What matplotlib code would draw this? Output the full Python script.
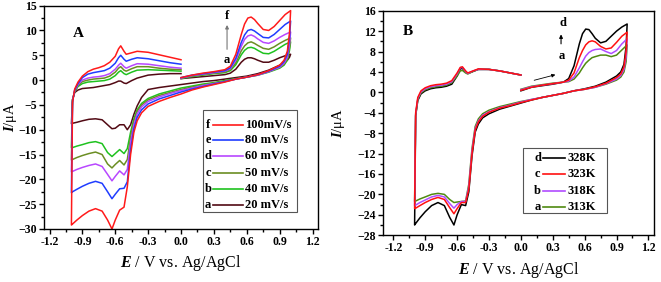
import matplotlib.pyplot as plt
from matplotlib.patches import Rectangle
from matplotlib.ticker import MultipleLocator, FormatStrFormatter

plt.rcParams['font.family'] = 'Liberation Serif'
plt.rcParams['font.weight'] = 'bold'
plt.rcParams['mathtext.fontset'] = 'custom'
plt.rcParams['mathtext.rm'] = 'Liberation Serif:bold'
plt.rcParams['mathtext.it'] = 'Liberation Serif:italic:bold'

# potential sweep: 0 -> 1.0 -> -1.0 -> 0 (V vs. Ag/AgCl)
E_sweep = [0.00, 0.10, 0.20, 0.30, 0.40, 0.45, 0.50, 0.55, 0.58, 0.61, 0.64, 0.67, 0.70, 0.75, 0.80, 0.85,
           0.90, 0.95, 1.00,
           0.99, 0.97, 0.94, 0.90, 0.80, 0.70, 0.60, 0.50, 0.40, 0.30, 0.20, 0.10, 0.00, -0.10, -0.20, -0.30,
           -0.36, -0.40, -0.43, -0.46, -0.49, -0.52, -0.56, -0.60, -0.63, -0.67, -0.72, -0.78, -0.84, -0.90,
           -0.95, -0.99, -1.00,
           -1.00, -0.99, -0.97, -0.94, -0.90, -0.85, -0.80, -0.75, -0.70, -0.65, -0.60, -0.57, -0.55, -0.52,
           -0.50, -0.45, -0.40, -0.30, -0.20, -0.10, 0.00]

# panel A: scan rates (uA)
I_f = [0.5, 1.0, 1.4, 1.7, 2.1, 2.8, 5.2, 9.2, 11.3, 12.5, 12.7, 12.2, 11.4, 10.2, 10.0, 10.8, 12.0, 13.2, 14.0,
       9.5, 5.8, 4.0, 3.0, 1.9, 1.1, 0.6, 0.2, -0.4, -0.9, -1.4, -2.0, -2.8, -3.5, -4.3, -5.3,
       -6.6, -8.2, -10.5, -15.0, -21.5, -25.6, -26.2, -28.2, -30.0, -28.2, -26.4, -25.9, -26.4, -27.3,
       -28.2, -29.0, -29.2,
       -29.2, -4.5, -1.8, -0.4, 0.8, 1.7, 2.2, 2.5, 2.9, 3.6, 4.8, 6.3, 6.9, 5.8,
       5.2, 5.5, 5.8, 5.6, 5.1, 4.6, 4.1]
I_e = [0.5, 1.0, 1.3, 1.6, 1.9, 2.5, 4.4, 7.6, 9.1, 10.0, 10.2, 9.9, 9.4, 8.6, 8.5, 9.2, 10.2, 11.2, 11.9,
       8.5, 5.2, 3.7, 2.8, 1.8, 1.1, 0.6, 0.2, -0.3, -0.8, -1.3, -1.8, -2.4, -3.1, -3.8, -4.8,
       -6.0, -7.5, -9.8, -14.0, -20.5, -21.8, -21.9, -23.0, -23.9, -22.5, -20.8, -20.4, -20.8, -21.4,
       -22.0, -22.5, -22.7,
       -22.7, -4.3, -2.0, -0.7, 0.5, 1.2, 1.5, 1.7, 1.9, 2.4, 3.4, 4.5, 5.0, 4.2,
       3.8, 4.2, 4.5, 4.3, 3.9, 3.5, 3.2]
I_d = [0.4, 0.9, 1.2, 1.5, 1.8, 2.3, 4.0, 6.8, 8.2, 8.9, 9.1, 8.8, 8.3, 7.6, 7.4, 7.9, 8.6, 9.2, 9.7,
       7.2, 4.6, 3.4, 2.6, 1.7, 1.0, 0.6, 0.2, -0.3, -0.7, -1.1, -1.6, -2.1, -2.7, -3.4, -4.3,
       -5.4, -6.8, -9.0, -12.5, -18.0, -19.1, -18.3, -19.4, -20.3, -19.0, -17.4, -16.9, -17.2, -17.6,
       -18.0, -18.4, -18.5,
       -18.5, -4.2, -2.1, -0.9, 0.0, 0.4, 0.6, 0.7, 0.9, 1.3, 2.2, 3.0, 3.4, 2.7,
       2.4, 2.9, 3.3, 3.2, 2.9, 2.6, 2.4]
I_c = [0.4, 0.8, 1.1, 1.4, 1.6, 2.1, 3.5, 5.9, 6.9, 7.5, 7.7, 7.4, 7.0, 6.4, 6.2, 6.7, 7.4, 8.0, 8.5,
       6.5, 4.3, 3.2, 2.5, 1.7, 1.0, 0.6, 0.2, -0.2, -0.6, -1.0, -1.4, -1.9, -2.5, -3.1, -4.0,
       -5.0, -6.3, -8.2, -11.5, -16.0, -17.1, -16.2, -17.0, -17.7, -16.9, -15.0, -14.5, -14.8, -15.2,
       -15.6, -16.0, -16.1,
       -16.1, -4.1, -2.2, -1.1, -0.3, 0.0, 0.2, 0.3, 0.4, 0.8, 1.6, 2.4, 2.7, 2.0,
       1.8, 2.3, 2.7, 2.7, 2.4, 2.2, 2.1]
I_b = [0.3, 0.7, 1.0, 1.3, 1.5, 1.9, 3.1, 5.1, 6.0, 6.5, 6.6, 6.4, 6.0, 5.4, 5.3, 5.8, 6.5, 7.2, 7.7,
       6.0, 4.0, 3.0, 2.4, 1.6, 1.0, 0.6, 0.3, -0.1, -0.5, -0.8, -1.2, -1.6, -2.2, -2.8, -3.7,
       -4.7, -6.0, -7.8, -10.5, -13.8, -14.8, -14.0, -14.8, -15.4, -14.6, -12.8, -12.4, -12.6, -13.0,
       -13.3, -13.6, -13.6,
       -13.6, -4.0, -2.3, -1.3, -0.7, -0.4, -0.3, -0.2, -0.1, 0.2, 0.9, 1.6, 1.9, 1.3,
       1.1, 1.6, 2.0, 2.1, 2.0, 1.9, 1.8]
I_a = [0.3, 0.5, 0.7, 0.9, 1.1, 1.4, 2.2, 3.6, 4.2, 4.5, 4.5, 4.3, 4.0, 3.6, 3.6, 4.0, 4.5, 4.9, 5.2,
       4.6, 4.0, 3.5, 3.0, 2.0, 1.3, 0.8, 0.5, 0.2, -0.1, -0.3, -0.6, -0.9, -1.2, -1.5, -1.9,
       -3.5, -5.2, -6.9, -9.0, -10.0, -9.0, -9.0, -9.7, -9.8, -9.0, -8.0, -7.8, -7.9, -8.2,
       -8.5, -8.7, -8.8,
       -8.8, -3.9, -2.5, -2.0, -1.7, -1.6, -1.5, -1.3, -1.1, -0.9, -0.5, -0.2, -0.2, -0.6,
       -0.7, -0.1, 0.4, 1.0, 1.2, 1.3, 1.3]

# panel B: temperatures (uA)
T_d = [0.3, 1.0, 1.3, 1.6, 2.0, 2.7, 5.2, 9.5, 11.5, 12.4, 12.3, 11.5, 10.6, 9.7, 10.0, 11.0, 12.0, 12.8, 13.4,
       9.0, 5.5, 4.0, 3.2, 2.0, 1.2, 0.7, 0.3, -0.2, -0.6, -1.0, -1.5, -2.1, -2.7, -3.3, -4.2,
       -5.0, -6.2, -7.8, -12.5, -19.5, -22.2, -22.0, -24.0, -26.0, -24.5, -22.2, -21.6, -22.2, -23.4,
       -24.6, -25.7, -26.0,
       -26.0, -4.6, -1.6, -0.3, 0.3, 0.7, 0.9, 1.0, 1.2, 1.6, 3.2, 4.6, 4.7, 4.0,
       3.7, 4.1, 4.5, 4.5, 4.2, 3.8, 3.4]
T_c = [0.4, 1.0, 1.4, 1.7, 2.0, 2.4, 3.8, 6.8, 8.2, 9.3, 9.9, 10.1, 9.9, 9.0, 8.5, 8.7, 9.8, 11.0, 11.8,
       8.0, 5.0, 3.6, 2.9, 1.8, 1.1, 0.6, 0.3, -0.2, -0.6, -1.0, -1.5, -2.0, -2.6, -3.1, -3.9,
       -4.7, -5.8, -7.4, -12.0, -19.0, -21.6, -21.6, -22.8, -23.8, -22.6, -21.0, -20.6, -21.0, -21.6,
       -22.2, -22.7, -22.8,
       -22.8, -4.0, -1.0, 0.3, 0.9, 1.3, 1.5, 1.6, 1.8, 2.3, 3.8, 4.9, 5.0, 4.2,
       3.8, 4.2, 4.6, 4.5, 4.2, 3.8, 3.4]
T_b = [0.5, 1.1, 1.4, 1.7, 2.0, 2.2, 3.0, 4.8, 6.0, 7.1, 7.8, 8.2, 8.4, 8.5, 8.0, 7.6, 8.2, 9.5, 10.5,
       7.0, 4.5, 3.3, 2.6, 1.7, 1.0, 0.6, 0.3, -0.2, -0.6, -1.0, -1.4, -1.9, -2.5, -3.0, -3.8,
       -4.5, -5.6, -7.1, -11.5, -18.5, -21.4, -21.4, -22.0, -22.7, -21.8, -20.5, -20.2, -20.5, -21.1,
       -21.6, -22.1, -22.2,
       -22.2, -4.2, -1.2, 0.1, 0.7, 1.1, 1.3, 1.4, 1.6, 2.1, 3.6, 4.8, 4.9, 4.1,
       3.7, 4.2, 4.5, 4.5, 4.2, 3.8, 3.4]
T_a = [0.6, 1.2, 1.5, 1.8, 2.0, 2.1, 2.6, 3.8, 4.8, 5.7, 6.3, 6.8, 7.0, 7.3, 7.3, 7.0, 7.3, 8.3, 9.3,
       6.0, 4.0, 3.0, 2.4, 1.6, 1.0, 0.6, 0.3, -0.2, -0.6, -1.0, -1.4, -1.8, -2.3, -2.8, -3.5,
       -4.2, -5.2, -6.7, -11.0, -18.0, -21.3, -21.4, -21.5, -21.6, -21.0, -20.0, -19.8, -20.0, -20.5,
       -20.9, -21.3, -21.4,
       -21.4, -4.4, -1.4, -0.1, 0.5, 0.9, 1.1, 1.2, 1.4, 1.9, 3.2, 4.2, 4.3, 3.8,
       3.6, 4.1, 4.5, 4.5, 4.2, 3.8, 3.4]

letters_A = ['f', 'e', 'd', 'c', 'b', 'a']
labels_A = ['100mV/s', '80 mV/s', '60 mV/s', '50 mV/s', '40 mV/s', '20 mV/s']
curves_A = [I_f, I_e, I_d, I_c, I_b, I_a]
colors_A = ['#ff1a1a', '#1f3cff', '#b847ff', '#6b8e23', '#1fc21f', '#520a14']

letters_B = ['d', 'c', 'b', 'a']
labels_B = ['328K', '323K', '318K', '313K']
curves_B = [T_d, T_c, T_b, T_a]
colors_B = ['#000000', '#ff1010', '#b04cff', '#4f8a10']

fig = plt.figure(figsize=(6.61, 2.82), dpi=100)
axA = fig.add_axes([0.0666, 0.188, 0.4145, 0.792])
axB = fig.add_axes([0.579, 0.166, 0.410, 0.796])


def style(ax, xlim, ylim, ymaj, ymin, ylab_x):
    ax.set_xlim(*xlim)
    ax.set_ylim(*ylim)
    ax.xaxis.set_major_locator(MultipleLocator(0.3))
    ax.xaxis.set_minor_locator(MultipleLocator(0.15))
    ax.yaxis.set_major_locator(MultipleLocator(ymaj))
    ax.yaxis.set_minor_locator(MultipleLocator(ymin))
    ax.xaxis.set_major_formatter(FormatStrFormatter('%.1f'))
    ax.tick_params(which='both', direction='out', width=1.0, labelsize=8.5, pad=1.5)
    ax.tick_params(which='major', length=3.5)
    ax.tick_params(which='minor', length=2)
    for s in ax.spines.values():
        s.set_linewidth(1.0)
    ax.set_xlabel('$E$ / V vs. Ag/AgCl', fontsize=11.5, labelpad=4)
    ax.set_ylabel('$I$/μA', fontsize=10.5)
    ax.yaxis.set_label_coords(ylab_x, 0.5)


def legend_box(ax, box, rows, letters, labels, colors, lx, l0, l1, tx):
    ax.add_patch(Rectangle((box[0], box[1]), box[2] - box[0], box[3] - box[1],
                           transform=ax.transAxes, fill=True, facecolor='white',
                           edgecolor='#555555', lw=0.8, zorder=5))
    for y, let, lab, c in zip(rows, letters, labels, colors):
        ax.text(lx, y, let, transform=ax.transAxes, fontsize=9, ha='center', va='center', zorder=6)
        ax.plot([l0, l1], [y, y], color=c, lw=1.2, transform=ax.transAxes, zorder=6)
        ax.text(tx, y, lab, transform=ax.transAxes, fontsize=9, ha='left', va='center', zorder=6)


# Panel A
for I, c in zip(curves_A[::-1], colors_A[::-1]):
    axA.plot(E_sweep, I, color=c, lw=1.1)
style(axA, (-1.25, 1.25), (-30, 15), 5, 2.5, -0.09)
axA.text(0.105, 0.858, 'A', transform=axA.transAxes, fontsize=11)
legend_box(axA, (0.580, 0.076, 0.923, 0.532),
           [0.465, 0.398, 0.327, 0.251, 0.179, 0.107],
           letters_A, labels_A, colors_A, 0.599, 0.617, 0.726, 0.734)
axA.text(0.668, 0.953, 'f', transform=axA.transAxes, fontsize=9, ha='center', va='center')
axA.text(0.668, 0.758, 'a', transform=axA.transAxes, fontsize=9, ha='center', va='center')
axA.annotate('', xy=(0.668, 0.926), xytext=(0.668, 0.792), xycoords='axes fraction',
             arrowprops=dict(arrowstyle='-|>', color='#777777', lw=0.8, mutation_scale=5))

# Panel B
for i in [0, 3, 2, 1]:
    axB.plot(E_sweep, curves_B[i], color=colors_B[i], lw=1.1)
style(axB, (-1.3, 1.25), (-28, 16), 4, 2, -0.13)
axB.text(0.073, 0.892, 'B', transform=axB.transAxes, fontsize=11)
legend_box(axB, (0.517, 0.099, 0.827, 0.389),
           [0.344, 0.272, 0.197, 0.125],
           letters_B, labels_B, colors_B, 0.572, 0.590, 0.672, 0.683)
axB.text(0.665, 0.944, 'd', transform=axB.transAxes, fontsize=9, ha='center', va='center')
axB.text(0.662, 0.798, 'a', transform=axB.transAxes, fontsize=9, ha='center', va='center')
axB.annotate('', xy=(0.658, 0.907), xytext=(0.658, 0.840), xycoords='axes fraction',
             arrowprops=dict(arrowstyle='-|>', color='black', lw=0.8, mutation_scale=5))
axB.annotate('', xy=(0.647, 0.718), xytext=(0.549, 0.687), xycoords='axes fraction',
             arrowprops=dict(arrowstyle='-|>', color='black', lw=0.6, mutation_scale=5))

fig.savefig('out.png', dpi=100)
